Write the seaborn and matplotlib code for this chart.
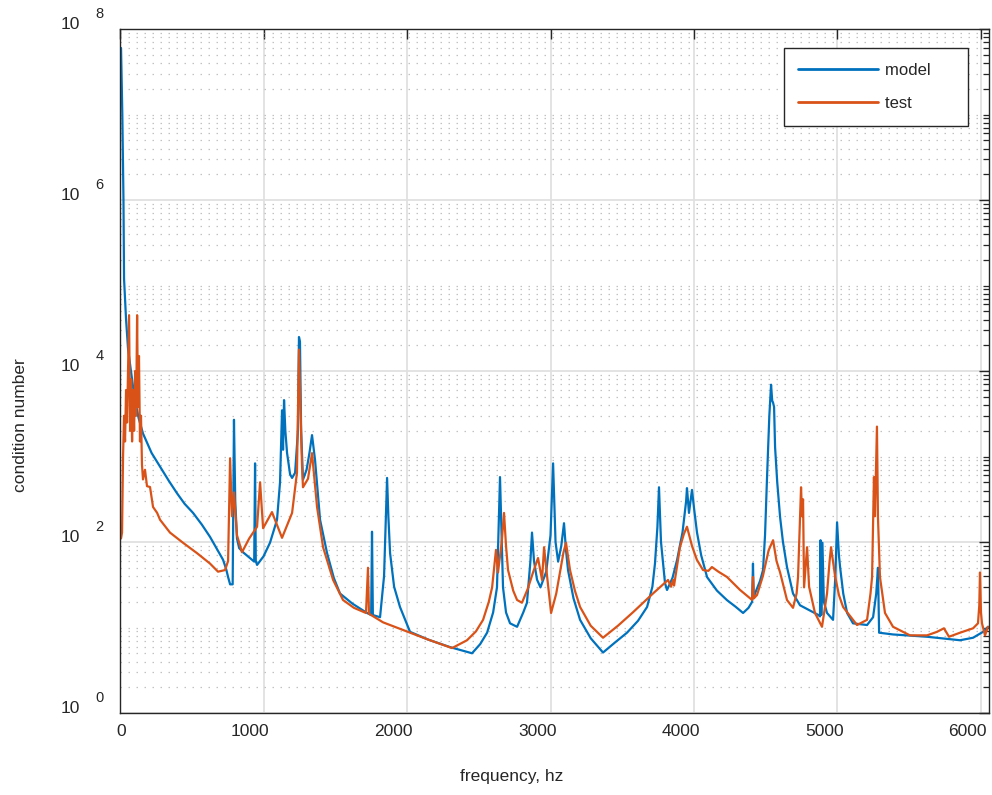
import numpy as np
import pandas as pd
import matplotlib
matplotlib.use('Agg')
import matplotlib.pyplot as plt
import matplotlib.ticker as mticker
import matplotlib.transforms as mtransforms
import seaborn as sns

# DATOS
freq_model = [7, 16, 24, 28, 42, 56, 70, 100, 130, 160, 220, 279, 340, 397, 450, 509, 570, 627,
              680, 718, 740, 753, 767, 785, 794, 803, 815, 830, 857, 900, 935, 941, 946, 955,
              1000, 1045, 1094, 1115, 1129, 1136, 1143, 1152, 1164, 1185, 1199, 1220, 1240, 1247,
              1254, 1262, 1275, 1300, 1320, 1338, 1359, 1394, 1443, 1490, 1533, 1620, 1721, 1750,
              1756, 1762, 1812, 1840, 1861, 1870, 1882, 1910, 1951, 2021, 2150, 2300, 2453, 2510,
              2558, 2600, 2627, 2648, 2669, 2690, 2718, 2767, 2810, 2836, 2860, 2871, 2885, 2906,
              2930, 2970, 3000, 3018, 3035, 3053, 3075, 3094, 3108, 3122, 3160, 3206, 3280, 3366,
              3450, 3533, 3610, 3673, 3710, 3728, 3745, 3756, 3770, 3798, 3812, 3850, 3882, 3920,
              3945, 3951, 3965, 3986, 4000, 4021, 4050, 4091, 4160, 4230, 4290, 4342, 4380, 4405,
              4411, 4416, 4425, 4460, 4481, 4495, 4509, 4525, 4537, 4545, 4551, 4558, 4565, 4580,
              4600, 4620, 4648, 4690, 4739, 4809, 4864, 4878, 4882, 4887, 4895, 4905, 4927, 4969,
              4985, 4997, 5010, 5018, 5040, 5067, 5108, 5206, 5248, 5270, 5282, 5290, 5387, 5624,
              5854, 5945, 6014, 6049]
cond_model = [6.0e7, 1.0e7, 1.0e6, 1.2e5, 4.0e4, 1.8e4, 1.2e4, 5000, 2800, 1860, 1100, 760, 520,
              372, 280, 219, 160, 115, 80, 62, 48, 39, 32, 32, 2690, 300, 110, 85, 76, 66, 59,
              832, 60, 54, 68, 98, 182, 500, 3470, 1200, 4570, 2000, 1100, 620, 562, 646, 2000,
              2.5e4, 2.2e4, 2000, 537, 700, 1100, 1780, 912, 182, 74, 38, 25, 19, 14.8, 14, 132,
              14, 13.2, 40, 562, 200, 74, 30, 17.4, 8.9, 7.2, 5.9, 5.0, 6.4, 8.7, 15, 29.5, 575,
              29.5, 15, 11.2, 10.2, 15, 19.5, 60, 129, 60, 36.3, 29.5, 45, 120, 832, 100, 59, 90,
              166, 80, 47, 22, 12.3, 7.5, 5.1, 6.7, 8.7, 12, 17.4, 30, 56, 150, 437, 100, 33,
              27.5, 38, 61.7, 130, 300, 427, 219, 407, 250, 129, 70, 38.9, 27, 20.9, 17.5, 14.8,
              17, 20, 56, 22, 25, 35, 47, 120, 575, 3000, 6918, 4500, 4266, 3800, 1288, 500, 195,
              100, 51, 25, 18.2, 15.8, 14.1, 13.5, 105, 14, 98, 20, 14.8, 12.3, 40, 170, 70, 51,
              25, 14.8, 11.2, 10.7, 13.2, 25, 50, 8.7, 8.3, 7.8, 7.1, 7.6, 8.9, 10.2]

freq_test = [7, 14, 21, 28, 35, 42, 49, 56, 63, 70, 77, 84, 91, 98, 105, 112, 119, 125, 132, 139,
             146, 153, 160, 174, 188, 209, 230, 258, 279, 348, 439, 537, 627, 683, 732, 753, 767,
             780, 794, 815, 850, 900, 955, 976, 997, 1059, 1129, 1199, 1233, 1247, 1268, 1275,
             1310, 1338, 1373, 1415, 1485, 1554, 1630, 1714, 1728, 1735, 1833, 2021, 2150, 2314,
             2418, 2480, 2530, 2570, 2593, 2620, 2634, 2660, 2676, 2690, 2704, 2740, 2767, 2801,
             2840, 2878, 2913, 2941, 2955, 2976, 3004, 3040, 3066, 3090, 3108, 3136, 3170, 3206,
             3280, 3366, 3470, 3575, 3714, 3819, 3840, 3854, 3861, 3880, 3902, 3930, 3951, 3986,
             4020, 4063, 4100, 4125, 4170, 4230, 4321, 4405, 4411, 4418, 4439, 4480, 4520, 4551,
             4575, 4600, 4648, 4690, 4715, 4725, 4746, 4753, 4760, 4767, 4788, 4802, 4843, 4892,
             4927, 4945, 4955, 4983, 5010, 5039, 5136, 5206, 5230, 5241, 5254, 5261, 5275, 5282,
             5296, 5331, 5387, 5505, 5624, 5693, 5742, 5777, 5854, 5945, 5979, 5988, 5993, 6000,
             6007, 6028, 6049]
cond_test = [110, 129, 1000, 3000, 1500, 6000, 2500, 1.0e4, 4.5e4, 2000, 8000, 1500, 6000, 2000,
             1.0e4, 3000, 4.5e4, 3800, 1.5e4, 1500, 3000, 800, 540, 700, 450, 440, 257, 220, 182,
             129, 98, 74, 56, 45, 47, 60, 955, 200, 380, 120, 76, 110, 151, 500, 145, 224, 112,
             219, 646, 1.78e4, 800, 437, 550, 1096, 257, 87, 36, 21, 17, 14.8, 50, 14.5, 11.5, 8.7,
             7.2, 5.75, 7.1, 9, 12.3, 20, 29.5, 81, 44, 100, 219, 90, 47, 27, 21, 19.5, 28, 44,
             65, 36, 87, 40, 14.8, 25, 44, 75, 98, 47, 27, 17.4, 10.5, 7.6, 10.5, 15.1, 25, 36,
             30, 36, 31, 50, 87, 125, 151, 90, 62, 47, 46, 51, 45, 39, 27.5, 21, 39, 22, 24, 40,
             80, 105, 60, 44, 21, 17, 25, 39, 437, 200, 316, 29.5, 87, 30, 14.8, 10.2, 25, 60,
             87, 40, 24, 17.4, 10.7, 12.3, 25, 39, 575, 200, 2239, 195, 39, 14.8, 10.2, 8.1, 8.1,
             8.9, 9.8, 7.8, 8.7, 9.8, 11.2, 18, 44, 15, 11.2, 8.1, 10.2]

series_names = ['model', 'test']
series_colors = ['#0072BD', '#D95319']
x_ticks = [0, 1000, 2000, 3000, 4000, 5000, 6000]
y_exponents = [0, 2, 4, 6, 8]

df = pd.concat([
    pd.DataFrame({'freq': freq_model, 'cond': cond_model, 'serie': 'model'}),
    pd.DataFrame({'freq': freq_test, 'cond': cond_test, 'serie': 'test'}),
], ignore_index=True)

sns.set_style('white')
plt.rcParams['font.family'] = ['Liberation Sans', 'DejaVu Sans']
txt_color = '#262626'

fig = plt.figure(figsize=(9.92, 7.95), dpi=100)
ax = fig.add_axes([0.121, 0.1031, 0.876, 0.8604])

sns.lineplot(data=df, x='freq', y='cond', hue='serie', hue_order=series_names,
             palette=dict(zip(series_names, series_colors)), estimator=None, sort=False,
             linewidth=1.6, ax=ax)

ax.set_yscale('log')
ax.set_ylim(1, 1e8)
ax.set_xlim(0, 6056)

# ticks
ax.set_xticks(x_ticks)
ax.yaxis.set_major_locator(mticker.FixedLocator([10.0 ** e for e in y_exponents]))
minor = [k * 10.0 ** n for n in range(8) for k in range(1, 10) if not (k == 1 and n % 2 == 0)]
ax.yaxis.set_minor_locator(mticker.FixedLocator(minor))
ax.yaxis.set_major_formatter(mticker.NullFormatter())
ax.yaxis.set_minor_formatter(mticker.NullFormatter())
ax.xaxis.set_minor_locator(mticker.NullLocator())
ax.tick_params(which='both', direction='in', top=True, right=True, colors=txt_color,
               labelsize=12.5)
ax.tick_params(which='major', length=7, width=1)
ax.tick_params(which='minor', length=4.5, width=0.9)
ax.tick_params(axis='x', pad=8)

# rejilla
ax.set_axisbelow(True)
ax.grid(True, which='major', color='#e0e0e0', linewidth=1.3, linestyle='-')
ax.yaxis.grid(True, which='minor', color='#c2c2c2', linewidth=0.9, linestyle=(0, (1.2, 5.2)))

for s in ax.spines.values():
    s.set_color(txt_color)
    s.set_linewidth(1.0)

# etiquetas del eje y al estilo 10^n
ytrans = ax.get_yaxis_transform()
for e in y_exponents:
    ax.annotate('10', xy=(0, 10.0 ** e), xycoords=ytrans, xytext=(-36, 3.6),
                textcoords='offset points', ha='center', va='center', fontsize=12.5,
                color=txt_color)
    ax.annotate(str(e), xy=(0, 10.0 ** e), xycoords=ytrans, xytext=(-15, 11),
                textcoords='offset points', ha='center', va='center', fontsize=10.5,
                color=txt_color)

ax.set_xlabel('frequency, hz', fontsize=12.5, color=txt_color)
ax.set_ylabel('condition number', fontsize=12.5, color=txt_color)
ax.xaxis.set_label_coords(0.451, -0.082)
ax.yaxis.set_label_coords(-0.106, 0.421)

handles, labels = ax.get_legend_handles_labels()
leg = ax.legend(handles, [l + '     ' for l in labels], loc='upper right',
                bbox_to_anchor=(0.976, 0.972), borderaxespad=0, handlelength=4.8,
                handletextpad=0.4, labelspacing=1.12, borderpad=0.86, fontsize=12,
                frameon=True, fancybox=False, edgecolor=txt_color, framealpha=1)
leg.get_frame().set_linewidth(1.0)
for h in leg.get_lines():
    h.set_linewidth(2)

# desplazar etiquetas del eje x como en el original
offset = mtransforms.ScaledTranslation(6 / 100, 0, fig.dpi_scale_trans)
for lbl in ax.get_xticklabels():
    lbl.set_horizontalalignment('right')
    lbl.set_transform(lbl.get_transform() + offset)

fig.savefig('out.png', dpi=100)
